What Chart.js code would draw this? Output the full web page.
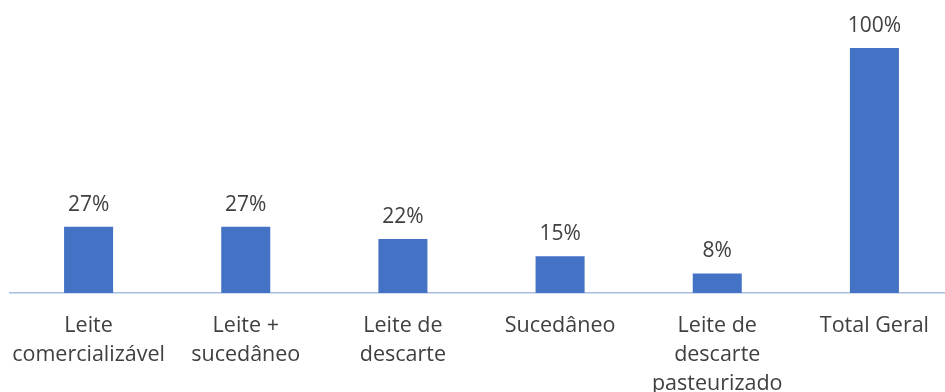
<!DOCTYPE html>
<html>
<head>
<meta charset="utf-8">
<script src="https://cdn.jsdelivr.net/npm/chart.js@4/dist/chart.umd.min.js"></script>
<style>
html,body{margin:0;padding:0;background:#fff;overflow:hidden;}
#wrap{width:953px;height:392px;position:relative;}
</style>
</head>
<body>
<div id="wrap"><canvas id="c"></canvas></div>
<script>
const categories = [
  ['Leite', 'comercializável'],
  ['Leite +', 'sucedâneo'],
  ['Leite de', 'descarte'],
  ['Sucedâneo'],
  ['Leite de', 'descarte', 'pasteurizado'],
  ['Total Geral']
];
const values = [27, 27, 22, 15, 8, 100];
const valueSuffix = '%';

const textColor = '#404040';
const fontFamily = '"Open Sans", sans-serif';

const dataLabels = {
  id: 'dataLabels',
  afterDatasetsDraw(chart) {
    const ctx = chart.ctx;
    const meta = chart.getDatasetMeta(0);
    ctx.save();
    ctx.font = '21px ' + fontFamily;
    ctx.fillStyle = textColor;
    ctx.textAlign = 'center';
    ctx.textBaseline = 'alphabetic';
    meta.data.forEach((bar, i) => {
      ctx.fillText(values[i] + valueSuffix, bar.x, bar.y - 16);
    });
    ctx.restore();
  }
};

new Chart(document.getElementById('c'), {
  type: 'bar',
  data: {
    labels: categories,
    datasets: [{
      data: values,
      backgroundColor: '#4472C4',
      borderWidth: 0,
      categoryPercentage: 1,
      barPercentage: 0.312
    }]
  },
  options: {
    responsive: true,
    maintainAspectRatio: false,
    animation: false,
    layout: { padding: { top: 48, left: 10, right: 0, bottom: 0 } },
    plugins: { legend: { display: false }, tooltip: { enabled: false } },
    scales: {
      x: {
        grid: { display: false, drawTicks: false },
        border: { display: true, color: '#A9BDE3', width: 1.5 },
        ticks: {
          color: textColor,
          font: { family: fontFamily, size: 21.5, lineHeight: '29px' },
          padding: 18.5,
          maxRotation: 0,
          autoSkip: false
        },
        afterFit(scale) {
          scale.height = 99;
          scale.paddingLeft = 0;
          scale.paddingRight = 0;
        }
      },
      y: {
        display: false,
        min: 0,
        max: 100
      }
    }
  },
  plugins: [dataLabels]
});
</script>
</body>
</html>
